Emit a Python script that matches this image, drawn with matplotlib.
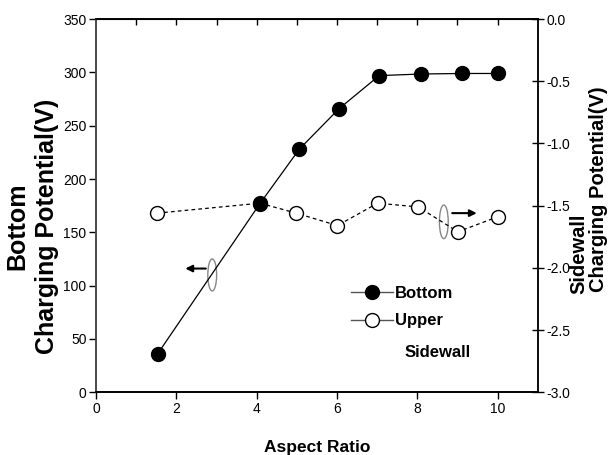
import numpy as np
import matplotlib
matplotlib.use("Agg")
import matplotlib.pyplot as plt
from matplotlib.patches import Ellipse
from matplotlib.lines import Line2D

plt.rcParams['font.family'] = ['Liberation Sans', 'DejaVu Sans']
plt.rcParams['axes.unicode_minus'] = False

# data
x_bottom = [1.53, 4.08, 5.06, 6.05, 7.05, 8.10, 9.12, 10.0]
bottom_v = [36, 177, 228, 266, 297, 298.5, 299, 299]
x_upper = [1.52, 4.08, 4.98, 6.01, 7.01, 8.02, 9.01, 10.0]
upper_v = [-1.56, -1.48, -1.56, -1.66, -1.48, -1.51, -1.71, -1.59]

left_ticks = [0, 50, 100, 150, 200, 250, 300, 350]
right_ticks = [-3.0, -2.5, -2.0, -1.5, -1.0, -0.5, 0.0]
x_ticks = [0, 2, 4, 6, 8, 10]

fig = plt.figure(figsize=(6.09, 4.55), dpi=100)
ax = fig.add_axes([0.158, 0.138, 0.725, 0.82])
ax2 = ax.twinx()
ax.set_zorder(ax2.get_zorder() + 1)
ax.patch.set_visible(False)

ax.plot(x_bottom, bottom_v, '-', color='black', lw=0.9, marker='o', ms=10,
        mfc='black', mec='black')
ax2.plot(x_upper, upper_v, '--', color='black', lw=0.9, marker='o', ms=10,
         mfc='white', mec='black', mew=1.0, dashes=(3, 2.5))

ax.set_xlim(0, 11)
ax.set_ylim(0, 350)
ax2.set_ylim(-3.0, 0.0)
ax.set_xticks(x_ticks)
ax.set_yticks(left_ticks)
ax2.set_yticks(right_ticks)
ax2.set_yticklabels([f"{t:.1f}" for t in right_ticks])

ax.tick_params(axis='both', direction='out', length=5, width=1, labelsize=10, pad=2)
ax2.tick_params(axis='y', direction='inout', length=9, width=1, labelsize=10, pad=2)

top = ax.secondary_xaxis('top')
top.set_xticks(range(1, 11))
top.set_xticklabels([])
top.tick_params(direction='in', length=4, width=1)

for a in (ax, ax2):
    for s in a.spines.values():
        s.set_linewidth(1.2)
ax.spines['left'].set_color('#555555')
ax2.spines['right'].set_color('#555555')

ax.set_xlabel('Aspect Ratio', fontsize=12.5, fontweight='bold', labelpad=17)
ax.set_ylabel('Bottom\nCharging Potential(V)', fontsize=18, fontweight='bold',
              linespacing=1.25)
ax.yaxis.set_label_coords(-0.145, 0.445)
ax.yaxis.label.set_va('center')

# right label: two lines, both starting at the same (lower) end
ax2.set_ylabel('Charging Potential(V)', fontsize=14.5, fontweight='bold', rotation=90)
ax2.yaxis.set_label_coords(1.137, 0.545)
ax2.yaxis.label.set_va('center')
ax2.text(1.093, 0.372, 'Sidewall', transform=ax2.transAxes, rotation=90,
         fontsize=14.5, fontweight='bold', ha='center', va='center')

# ellipses and arrows marking which axis each curve belongs to
ax.add_patch(Ellipse((2.89, 110), 0.22, 30, fill=False, ec='#888888', lw=1))
ax.annotate('', xy=(2.15, 116), xytext=(2.8, 116),
            arrowprops=dict(arrowstyle='-|>', color='black', lw=1.5, mutation_scale=10))
ax2.add_patch(Ellipse((8.66, -1.63), 0.22, 0.27, fill=False, ec='#888888', lw=1))
ax2.annotate('', xy=(9.55, -1.56), xytext=(8.8, -1.56),
             arrowprops=dict(arrowstyle='-|>', color='black', lw=1.5, mutation_scale=10))

handles = [
    Line2D([], [], color='#555555', lw=1, marker='o', ms=10, mfc='black', mec='black'),
    Line2D([], [], color='#555555', lw=1, marker='o', ms=10, mfc='white', mec='black'),
]
leg = ax.legend(handles, ['Bottom', 'Upper'], loc='upper left',
                bbox_to_anchor=(0.577, 0.285), frameon=False, borderpad=0,
                borderaxespad=0, handlelength=2.5, handletextpad=0.15,
                labelspacing=0.75, prop=dict(size=12, weight='bold'))
# second line of the "Upper Sidewall" legend label
ax.text(0.698, 0.107, 'Sidewall', transform=ax.transAxes, fontsize=12,
        fontweight='bold', ha='left', va='center')

fig.savefig('out.png', dpi=100)
